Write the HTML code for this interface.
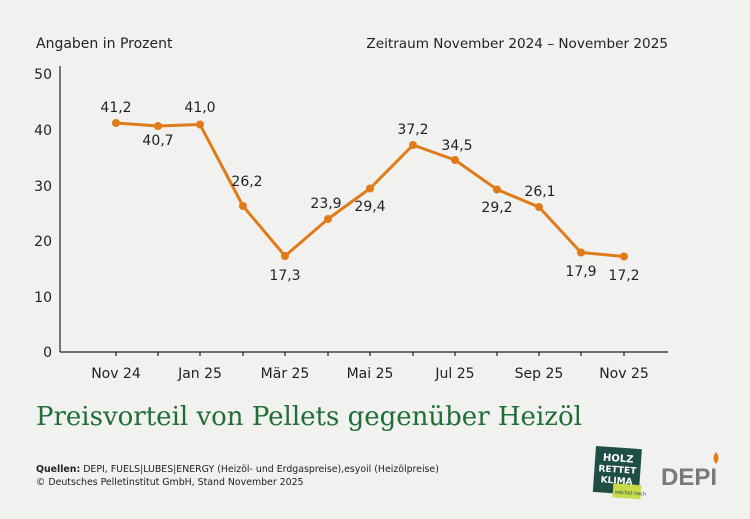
<!DOCTYPE html>
<html><head><meta charset="utf-8"><style>
body{margin:0;background:#f1f1ef;}
svg{display:block;font-family:"DejaVu Sans","Liberation Sans",sans-serif;}
</style></head><body>
<svg width="750" height="519" viewBox="0 0 750 519">
<rect width="750" height="519" fill="#f1f1ef"/>
<text x="36" y="48" font-size="14" fill="#222">Angaben in Prozent</text>
<text x="668" y="48" font-size="13.6" fill="#222" text-anchor="end">Zeitraum November 2024 – November 2025</text>
<g font-size="14" fill="#222" text-anchor="end">
<text x="52" y="357">0</text><text x="52" y="302">10</text><text x="52" y="246">20</text>
<text x="52" y="191">30</text><text x="52" y="135">40</text><text x="52" y="79">50</text>
</g>
<line x1="60" y1="66" x2="60" y2="352" stroke="#222" stroke-width="1.2"/>
<line x1="60" y1="352" x2="668" y2="352" stroke="#222" stroke-width="1.2"/>
<g stroke="#222" stroke-width="1.2">
<line x1="116" y1="352" x2="116" y2="356"/><line x1="158" y1="352" x2="158" y2="356"/>
<line x1="200" y1="352" x2="200" y2="356"/><line x1="243" y1="352" x2="243" y2="356"/>
<line x1="285" y1="352" x2="285" y2="356"/><line x1="328" y1="352" x2="328" y2="356"/>
<line x1="370" y1="352" x2="370" y2="356"/><line x1="413" y1="352" x2="413" y2="356"/>
<line x1="455" y1="352" x2="455" y2="356"/><line x1="497" y1="352" x2="497" y2="356"/>
<line x1="539" y1="352" x2="539" y2="356"/><line x1="581" y1="352" x2="581" y2="356"/>
<line x1="624" y1="352" x2="624" y2="356"/>
</g>
<g font-size="14" fill="#222" text-anchor="middle">
<text x="116" y="378">Nov 24</text><text x="200" y="378">Jan 25</text><text x="285" y="378">Mär 25</text>
<text x="370" y="378">Mai 25</text><text x="455" y="378">Jul 25</text><text x="539" y="378">Sep 25</text>
<text x="624" y="378">Nov 25</text>
</g>
<polyline fill="none" stroke="#e07b1a" stroke-width="3" stroke-linejoin="round"
points="116,123 158,126 200,124.5 243,206 285,256 328,219 370,188.5 413,145 455,160 497,189.5 539,207 581,252.5 624,256.5"/>
<g fill="#e07b1a">
<circle cx="116" cy="123" r="4"/><circle cx="158" cy="126" r="4"/><circle cx="200" cy="124.5" r="4"/>
<circle cx="243" cy="206" r="4"/><circle cx="285" cy="256" r="4"/><circle cx="328" cy="219" r="4"/>
<circle cx="370" cy="188.5" r="4"/><circle cx="413" cy="145" r="4"/><circle cx="455" cy="160" r="4"/>
<circle cx="497" cy="189.5" r="4"/><circle cx="539" cy="207" r="4"/><circle cx="581" cy="252.5" r="4"/>
<circle cx="624" cy="256.5" r="4"/>
</g>
<g font-size="14" fill="#222" text-anchor="middle">
<text x="116" y="112">41,2</text><text x="158" y="145">40,7</text><text x="200" y="112">41,0</text>
<text x="247" y="186">26,2</text><text x="285" y="280">17,3</text><text x="326" y="208">23,9</text>
<text x="370" y="211">29,4</text><text x="413" y="134">37,2</text><text x="457" y="150">34,5</text>
<text x="497" y="212">29,2</text><text x="540" y="196">26,1</text><text x="581" y="276">17,9</text>
<text x="624" y="280">17,2</text>
</g>
<text x="36" y="425" font-family="'DejaVu Serif','Liberation Serif',serif" font-size="26" fill="#1f6e35">Preisvorteil von Pellets gegenüber Heizöl</text>
<text x="36" y="472" font-size="9.4" fill="#222"><tspan font-weight="bold">Quellen:</tspan> DEPI, FUELS|LUBES|ENERGY (Heizöl- und Erdgaspreise),esyoil (Heizölpreise)</text>
<text x="36" y="485" font-size="9.4" fill="#222">© Deutsches Pelletinstitut GmbH, Stand November 2025</text>
<g transform="translate(596,446) rotate(4)">
<rect x="0" y="0" width="46" height="46" fill="#1f4f44"/>
<text x="23" y="14" font-size="10" font-weight="bold" fill="#fff" text-anchor="middle">HOLZ</text>
<text x="23" y="25" font-size="9" font-weight="bold" fill="#fff" text-anchor="middle">RETTET</text>
<text x="23" y="36" font-size="9" font-weight="bold" fill="#fff" text-anchor="middle">KLIMA</text>
<rect x="20" y="36" width="28" height="14" fill="#c9d94a"/>
<text x="34" y="46" font-size="5" fill="#1f4f44" text-anchor="middle">Es wächst nach</text>
</g>
<text x="661" y="485" font-family="'Liberation Sans',sans-serif" font-weight="bold" font-size="24" fill="#7a7a7a">DEPI</text>
<path d="M716 452 q-5 6 0 12 q5 -6 0 -12z" fill="#e07b1a"/>
</svg>
</body></html>
